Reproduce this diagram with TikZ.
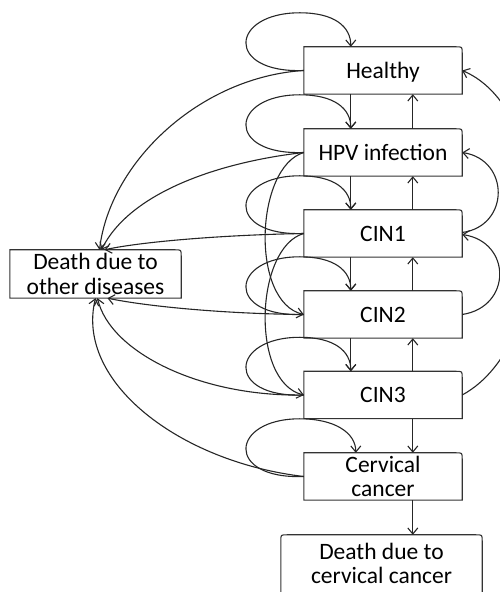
\documentclass[tikz,border=0pt]{standalone}
\usepackage{fontspec}
\setmainfont{Carlito}
\usetikzlibrary{arrows.meta,calc}
\newcommand\selfloopx[2]{%
  \draw[arr] (#1.west) .. controls +(-79,-3) and +(-70,0) .. ([xshift=-4pt,yshift=34pt]#1.north west)
     .. controls +(35,0) and +(0,20) .. ([xshift=#2]#1.north west);}
\begin{document}
\begin{tikzpicture}[x=1pt,y=1pt,
  every node/.style={font=\fontsize{23.5}{24.5}\selectfont},
  st/.style={inner sep=0pt, minimum width=158pt, minimum height=47pt},
  sg/.style={st, text depth=0pt},
  ln/.style={line width=1.1pt, draw=black!85},
  arr/.style={ln, -{Straight Barb[length=6pt,width=10pt,line width=1.1pt]}},
  outline/.style={line width=1.1pt, draw=black!80}]
\useasboundingbox (0,0) rectangle (500,592);
\clip (0,0) rectangle (500,592);

% boxes
\node[sg] (healthy) at (383,521.5) {Healthy};
\node[sg] (hpv) at (383,439.5) {HPV infection};
\node[sg] (cin1) at (383,358.5) {CIN1};
\node[sg] (cin2) at (383,277.5) {CIN2};
\node[sg] (cin3) at (383,197) {CIN3};
\node[st, align=center] (cc) at (383,115.5) {Cervical\\cancer};
\node[inner sep=0pt, minimum width=171pt, minimum height=48pt, align=center] (dod) at (95.5,318) {Death due to\\other diseases};
\node[inner sep=0pt, minimum width=201pt, minimum height=57pt, align=center] (dcc) at (381.5,28.5) {Death due to\\cervical cancer};

\foreach \n in {healthy,hpv,cin1,cin2,cin3,cc,dod}
  \draw[outline] (\n.south west) -- (\n.north west) -- ([xshift=-6pt]\n.north east)
     .. controls (\n.north east) .. ([yshift=-6pt]\n.north east) -- (\n.south east) -- cycle;
\draw[outline] ([yshift=-12pt]dcc.south west) -- ([yshift=-6pt]dcc.north west)
   .. controls (dcc.north west) .. ([xshift=6pt]dcc.north west)
   -- ([xshift=-6pt]dcc.north east) .. controls (dcc.north east) .. ([yshift=-6pt]dcc.north east)
   -- ([yshift=-12pt]dcc.south east);

% vertical transitions
\foreach \a/\b in {healthy/hpv,hpv/cin1,cin1/cin2,cin2/cin3}{
  \draw[arr] ([xshift=47pt]\a.south west) -- ([xshift=47pt]\b.north west);
  \draw[arr] ([xshift=109pt]\b.north west) -- ([xshift=109pt]\a.south west);
}
\draw[arr] ([xshift=109pt]cin3.south west) -- ([xshift=109pt]cc.north west);
\draw[arr] ([xshift=109pt]cc.south west) -- ([xshift=132pt]dcc.north west);

% self loops
\selfloopx{healthy}{47pt}
\selfloopx{hpv}{47pt}
\selfloopx{cin1}{47pt}
\selfloopx{cin2}{47pt}
\selfloopx{cin3}{47pt}
\selfloopx{cc}{52pt}

% to death due to other diseases
\draw[arr] (healthy.west) .. controls (200,515) and (110,430) .. ([xshift=4pt]dod.north);
\draw[arr] (hpv.west) .. controls (220,430) and (130,400) .. ([xshift=6pt]dod.north);
\draw[arr] (cin1.west) .. controls (220,357) and (140,350) .. ([xshift=9pt]dod.north);
\draw[arr] (cin2.west) .. controls (230,278) and (150,285) .. ([xshift=12pt]dod.south);
\draw[arr] (cin3.west) .. controls (200,195) and (110,240) .. ([xshift=2pt]dod.south);
\draw[arr] (cc.west) .. controls (180,130) and (75,210) .. (dod.south);

% skip progressions on the left
\draw[arr] (hpv.west) .. controls (255,425) and (250,290) .. (cin2.west);
\draw[arr] (cin1.west) .. controls (255,345) and (250,210) .. (cin3.west);

% regressions on the right
\draw[arr] (cin3.east) .. controls (560,250) and (560,480) .. (healthy.east);
\draw[arr] ([yshift=1pt]cin1.east) .. controls (510,366) and (510,432) .. (hpv.east);
\draw[arr] (cin2.east) .. controls (512,285) and (512,350) .. ([yshift=-1pt]cin1.east);
\end{tikzpicture}
\end{document}
